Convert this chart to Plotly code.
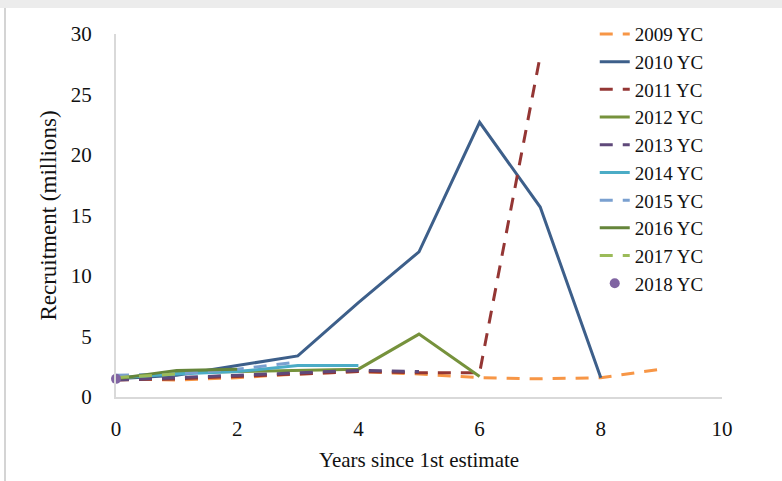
import plotly.graph_objects as go

years = [0, 1, 2, 3, 4, 5, 6, 7, 8, 9]

series_names = ["2009 YC", "2010 YC", "2011 YC", "2012 YC", "2013 YC",
                "2014 YC", "2015 YC", "2016 YC", "2017 YC", "2018 YC"]

yc2009 = [1.5, 1.4, 1.6, 1.9, 2.1, 1.9, 1.6, 1.5, 1.6, 2.3]
yc2010 = [1.5, 1.8, 2.6, 3.4, 7.8, 12.0, 22.7, 15.7, 1.6]
yc2011 = [1.4, 1.5, 1.7, 1.9, 2.1, 2.0, 2.0, 28.2]
yc2012 = [1.5, 2.0, 2.1, 2.2, 2.3, 5.2, 1.7]
yc2013 = [1.4, 1.6, 1.8, 2.0, 2.2, 2.1]
yc2014 = [1.6, 1.9, 2.1, 2.6, 2.6]
yc2015 = [1.8, 1.9, 2.3, 2.9]
yc2016 = [1.5, 2.2, 2.3]
yc2017 = [1.6, 1.9]
yc2018 = [1.5]

all_values = [yc2009, yc2010, yc2011, yc2012, yc2013,
              yc2014, yc2015, yc2016, yc2017, yc2018]

colors = ["#f79646", "#3d5f8a", "#943634", "#76923c", "#5f497a",
          "#4bacc6", "#7aa0d0", "#65853a", "#9bbb59", "#8064a2"]
dashes = ["13px,10px", "solid", "13px,10px", "solid", "13px,10px",
          "solid", "13px,10px", "solid", "13px,10px", None]

FONT = "Liberation Serif, Times New Roman, serif"

fig = go.Figure()
for name, vals, col, dsh in zip(series_names, all_values, colors, dashes):
    xs = years[:len(vals)]
    if dsh is None:
        fig.add_trace(go.Scatter(x=xs, y=vals, name=name, mode="markers",
                                 cliponaxis=False,
                                 marker=dict(color=col, size=10)))
    else:
        fig.add_trace(go.Scatter(x=xs, y=vals, name=name, mode="lines",
                                 line=dict(color=col, width=3, dash=dsh)))

fig.update_layout(
    width=782, height=481,
    margin=dict(l=116, r=60, t=34, b=84),
    paper_bgcolor="white", plot_bgcolor="white",
    font=dict(family=FONT, size=21, color="#111111"),
    showlegend=True,
    legend=dict(x=0.79, y=1.052, xanchor="left", yanchor="top",
                bgcolor="rgba(0,0,0,0)", font=dict(family=FONT, size=19),
                tracegroupgap=0, itemwidth=30, maxheight=460),
    xaxis=dict(range=[0, 10], dtick=2, tick0=0, showgrid=False, zeroline=False,
               showline=True, linecolor="#d9d9d9", linewidth=2,
               ticks="", ticklabelstandoff=12,
               title=dict(text="Years since 1st estimate", standoff=12,
                          font=dict(size=21))),
    yaxis=dict(range=[0, 30], dtick=5, tick0=0, showgrid=False, zeroline=False,
               showline=True, linecolor="#d9d9d9", linewidth=2,
               ticks="", ticklabelstandoff=18,
               title=dict(text="Recruitment (millions)", standoff=8,
                          font=dict(size=23))),
    shapes=[
        dict(type="rect", xref="paper", yref="paper",
             x0=-116/606, x1=1 + 60/606, y0=1 + 26/363, y1=1 + 34/363,
             fillcolor="#ececec", line=dict(width=0), layer="below"),
        dict(type="line", xref="paper", yref="paper",
             x0=-111/606, x1=-111/606, y0=-84/363, y1=1 + 26/363,
             line=dict(color="#d4d4d4", width=2), layer="below"),
    ],
)

fig.write_html("out.html")
